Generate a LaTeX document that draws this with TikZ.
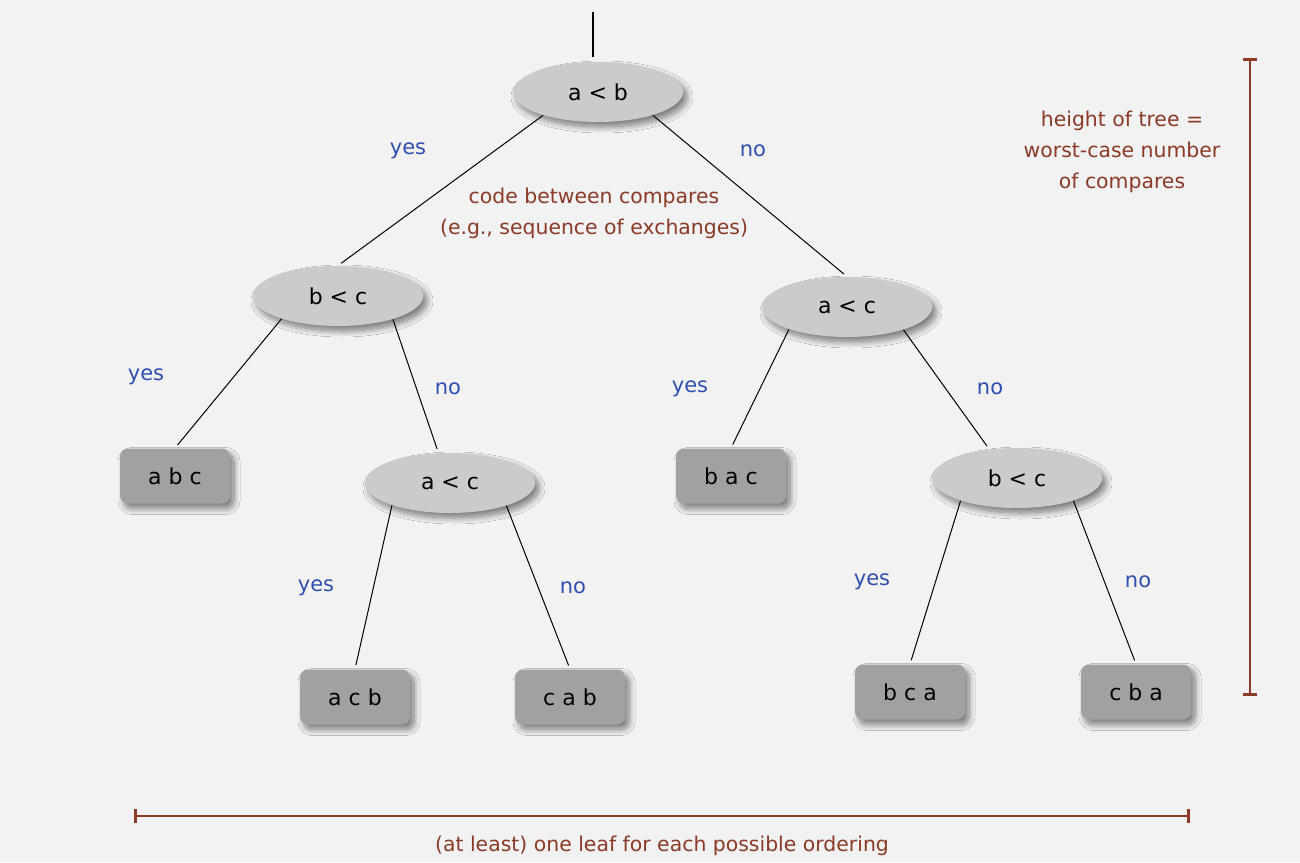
\documentclass[tikz,border=0pt]{standalone}
\usepackage{fontspec}
\setmainfont{DejaVu Sans}
\usetikzlibrary{shapes.geometric,shadows.blur,arrows.meta}

\definecolor{bg}{HTML}{F2F2F2}
\definecolor{cmpgray}{HTML}{CBCBCB}
\definecolor{leafgray}{HTML}{A1A1A1}
\definecolor{notebrown}{HTML}{8B3A26}
\definecolor{ansblue}{HTML}{2F4FB0}

\begin{document}
\begin{tikzpicture}[x=0.5pt, y=-0.5pt, font=\fontsize{10.2}{15.5}\selectfont]
	\tikzstyle{cmp} = [ellipse, fill=cmpgray, minimum width=85pt, minimum height=30pt, inner sep=0pt, font=\fontsize{11}{13}\selectfont, blur shadow={shadow xshift=2pt, shadow yshift=-2.5pt, shadow opacity=50, shadow blur steps=12, shadow blur radius=3pt}]
	\tikzstyle{leaf} = [rectangle, rounded corners=4pt, fill=leafgray, minimum width=55pt, minimum height=27.5pt, inner sep=0pt, font=\fontsize{11}{13}\selectfont, blur shadow={shadow xshift=2pt, shadow yshift=-2.5pt, shadow opacity=50, shadow blur steps=12, shadow blur radius=3pt}]
	\tikzstyle{ans} = [text=ansblue, font=\fontsize{10.5}{13}\selectfont]
	\tikzstyle{note} = [text=notebrown, align=center]
	\tikzstyle{edge} = [-, line width=0.5pt, shorten >=2pt]
	\tikzstyle{span} = [{Bar[width=7pt]}-{Bar[width=7pt]}, draw=notebrown, line width=1.4pt]
	\fill [bg] (0,0) rectangle (1300,862);
	\useasboundingbox (0,0) rectangle (1300,862);
	% compares
	\node [cmp] (AB) at (598,92) {a < b};
	\node [cmp] (BC1) at (338,296) {b < c};
	\node [cmp] (AC1) at (847,307) {a < c};
	\node [cmp] (AC2) at (450,483) {a < c};
	\node [cmp] (BC2) at (1017,478) {b < c};
	% leaves
	\node [leaf] (ABC) at (175,476) {a b c};
	\node [leaf] (BAC) at (731,476) {b a c};
	\node [leaf] (ACB) at (355,697) {a c b};
	\node [leaf] (CAB) at (570,697) {c a b};
	\node [leaf] (BCA) at (910,692) {b c a};
	\node [leaf] (CBA) at (1136,692) {c b a};
	% tree
	\coordinate (top) at (593,12);
	\draw [line width=1pt, shorten >=2.5pt] (top)--(AB.north -| top);
	\draw [edge] (AB.203)--(BC1.north);
	\draw [edge] (AB.337)--(AC1.north);
	\draw [edge] (BC1.202)--(ABC.north);
	\draw [edge] (BC1.337)--(AC2.111);
	\draw [edge] (AC1.201)--(BAC.north);
	\draw [edge] (AC1.338)--(BC2.134);
	\draw [edge] (AC2.201)--(ACB.north);
	\draw [edge] (AC2.338)--(CAB.north);
	\draw [edge] (BC2.202)--(BCA.north);
	\draw [edge] (BC2.338)--(CBA.north);
	% answers
	\node [ans] (y1) at (408,151) {yes};
	\node [ans] (n1) at (753,151) {no};
	\node [ans] (y2) at (146,377) {yes};
	\node [ans] (n2) at (448,389) {no};
	\node [ans] (y3) at (690,389) {yes};
	\node [ans] (n3) at (990,389) {no};
	\node [ans] (y4) at (316,588) {yes};
	\node [ans] (n4) at (573,588) {no};
	\node [ans] (y5) at (872,582) {yes};
	\node [ans] (n5) at (1138,582) {no};
	% notes
	\node [note] (code) at (594,213) {code between compares\\(e.g., sequence of exchanges)};
	\node [note] (height) at (1122,152) {height of tree =\\worst-case number\\of compares};
	\node [note] (leaves) at (662,846) {(at least) one leaf for each possible ordering};
	\coordinate (h1) at (1250,58);
	\coordinate (h2) at (1250,696);
	\coordinate (w1) at (134,816);
	\coordinate (w2) at (1190,816);
	\draw [span] (h1)--(h2);
	\draw [span] (w1)--(w2);
\end{tikzpicture}
\end{document}
